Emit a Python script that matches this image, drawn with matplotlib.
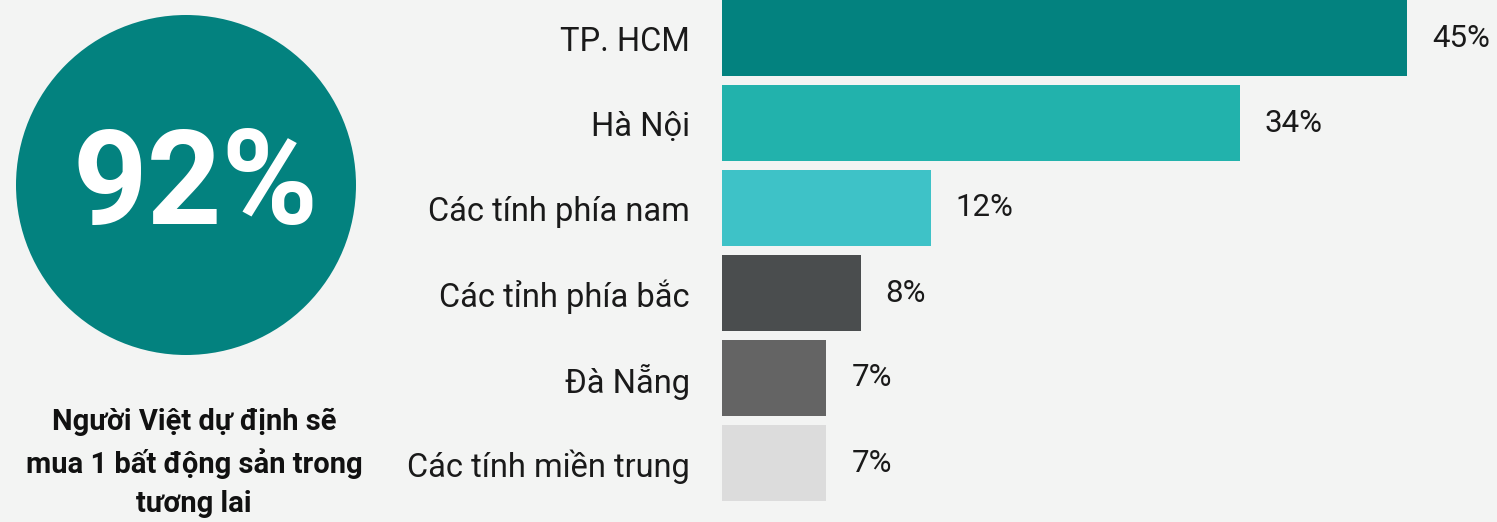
import numpy as np
import matplotlib
matplotlib.use("Agg")
import matplotlib.pyplot as plt
from matplotlib.patches import Circle

# data
regions = ["TP. HCM", "Hà Nội", "Các tính phía nam", "Các tỉnh phía bắc",
           "Đà Nẵng", "Các tính miền trung"]
bar_lengths = [45, 34, 13.7, 9.1, 6.85, 6.85]   # drawn bar lengths
value_labels = ["45%", "34%", "12%", "8%", "7%", "7%"]
bar_colors = ["#03827f", "#22b2ac", "#3ec2c7", "#4a4d4e", "#646464", "#dcdcdc"]
headline = "92%"
caption = "Người Việt dự định sẽ\nmua 1 bất động sản trong\ntương lai"

BG = "#f3f4f3"
TEAL = "#03827f"
W, H = 1497, 522

plt.rcParams["font.family"] = ["Roboto", "DejaVu Sans"]

fig = plt.figure(figsize=(W / 100, H / 100), dpi=100, facecolor=BG)

# left panel, in pixel units
axl = fig.add_axes([0, 0, 400 / W, 1])
axl.set_xlim(0, 400)
axl.set_ylim(H, 0)
axl.axis("off")
axl.add_patch(Circle((186, 185), 170, color=TEAL, lw=0))
axl.text(195, 188, headline, color="white", fontsize=94, fontweight="bold",
         ha="center", va="center")
axl.text(194, 463, caption, color="#111111", fontsize=21, fontweight="bold",
         ha="center", va="center", linespacing=1.5)

# bar panel
ax = fig.add_axes([722 / W, 0, (W - 722) / W, 1], facecolor=BG)
y = np.arange(len(regions))
ax.barh(y, bar_lengths, height=0.894, color=bar_colors)
ax.set_xlim(0, 45 * (W - 722) / 685)
ax.set_ylim((H - 38) / 85, -38 / 85)
ax.set_yticks(y, labels=regions)
ax.tick_params(axis="y", length=0, pad=23, labelsize=23.5, labelcolor="#1a1a1a")
ax.set_xticks([])
for s in ax.spines.values():
    s.set_visible(False)

for yi, v, lab in zip(y, bar_lengths, value_labels):
    ax.annotate(lab, (v, yi), xytext=(18, 0), textcoords="offset points",
                va="center", ha="left", fontsize=22.5, color="#1a1a1a")

fig.savefig("out.png", dpi=100, facecolor=BG)
